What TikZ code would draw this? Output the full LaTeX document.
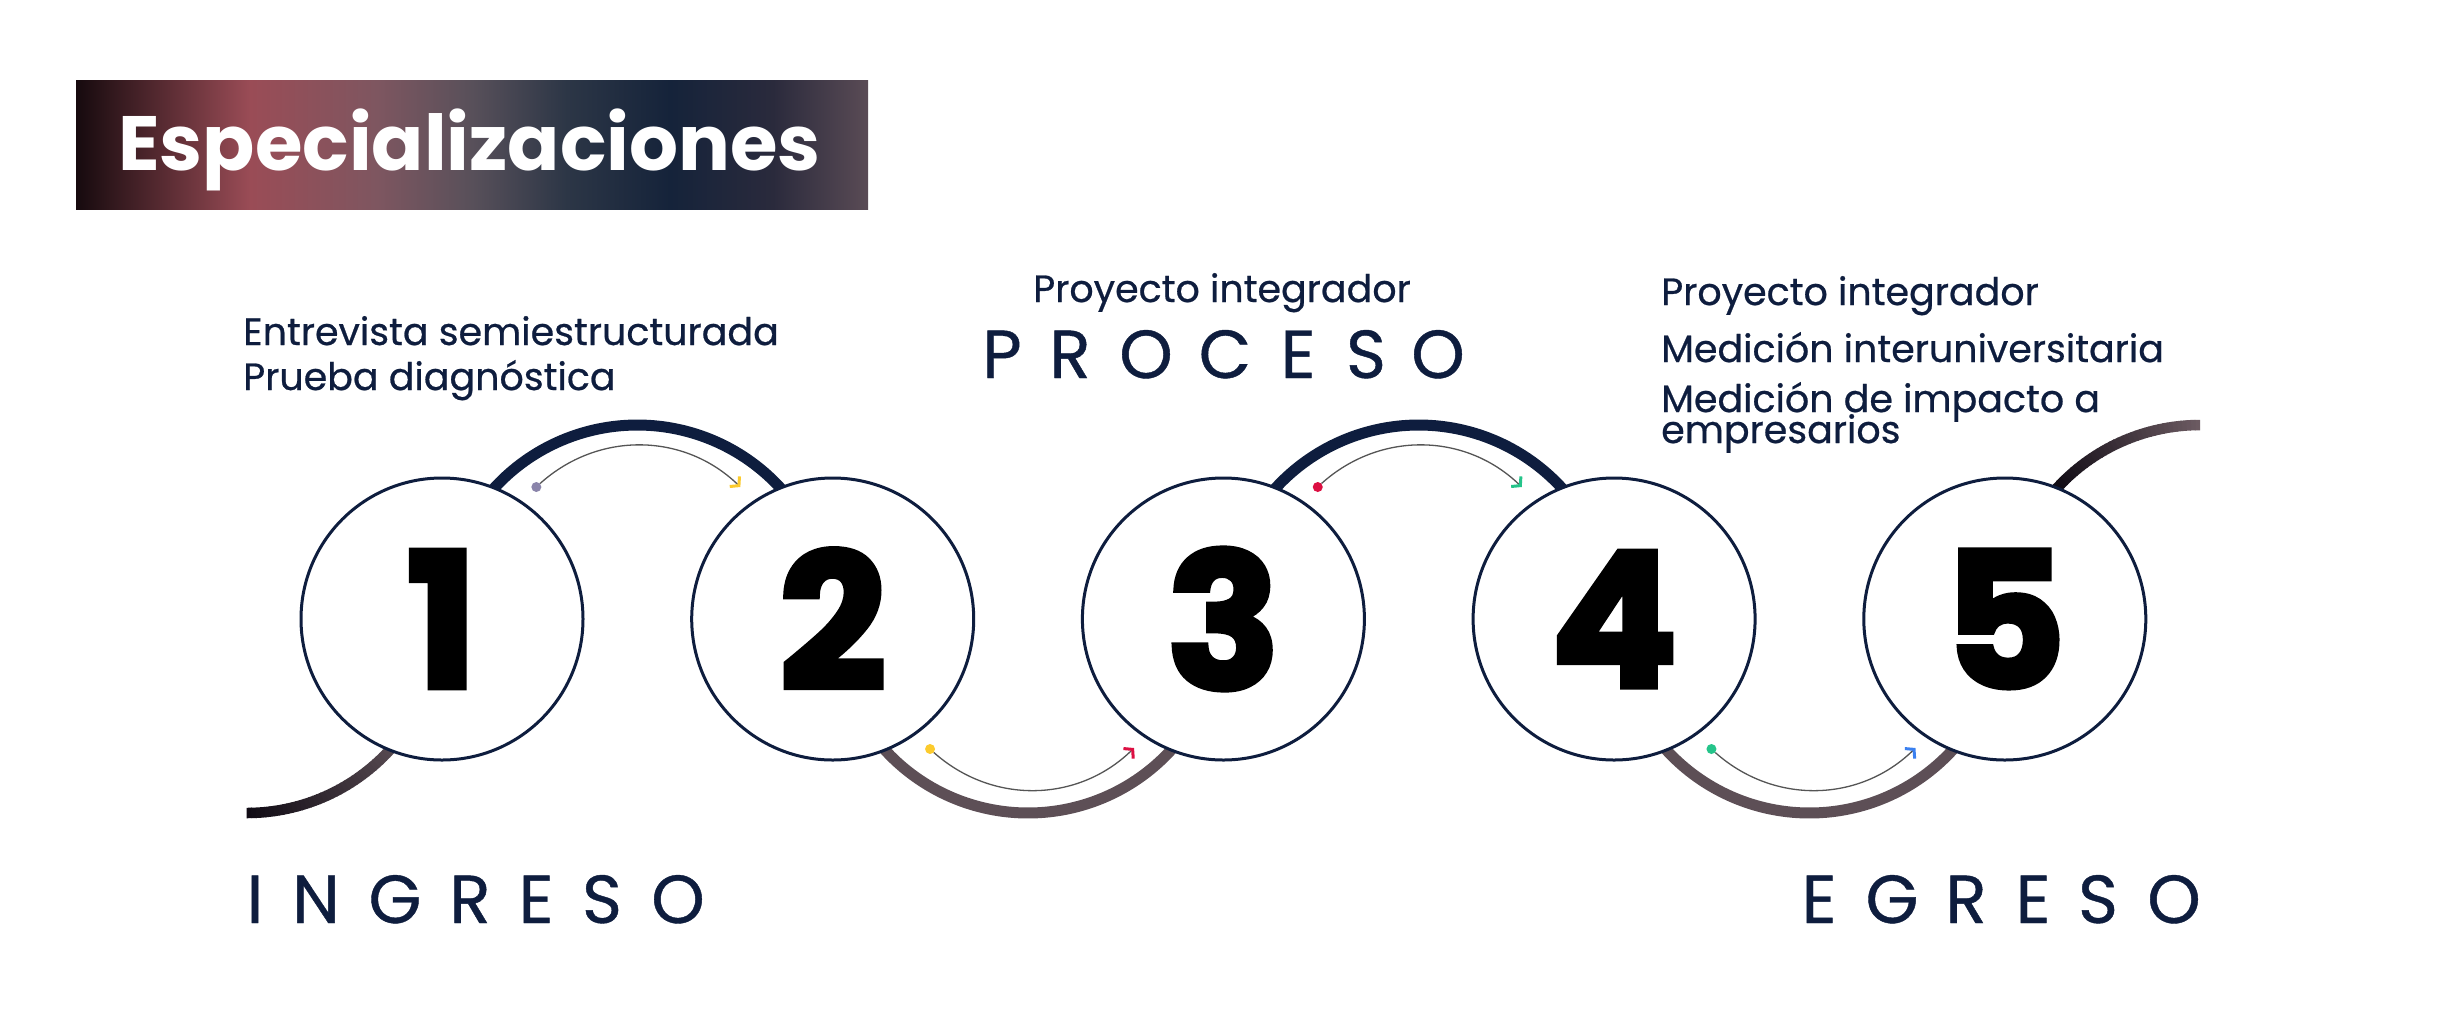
\documentclass[tikz,border=0pt]{standalone}
\usepackage{fontspec}
\setmainfont{Poppins}
\newfontfamily\digfont{Poppins}[FakeBold=3]
\newfontfamily\bodyfont{Poppins}[FakeBold=0.6]
\usetikzlibrary{arrows.meta}
\definecolor{navy}{HTML}{0E1D3E}
\definecolor{brownarc}{HTML}{5D4F56}
\definecolor{endbrown}{HTML}{6B5A61}
\definecolor{darkend}{HTML}{100B14}
\definecolor{dotlav}{HTML}{8A84AA}
\definecolor{cyel}{HTML}{FCCB2D}
\definecolor{cred}{HTML}{DC0F42}
\definecolor{cgreen}{HTML}{25C48A}
\definecolor{cblue}{HTML}{3A80F0}
\definecolor{arrowgray}{HTML}{555555}
\definecolor{t0}{HTML}{160A0E}
\definecolor{t1}{HTML}{9A4C56}
\definecolor{t2}{HTML}{7E5660}
\definecolor{t3}{HTML}{58505A}
\definecolor{t4}{HTML}{2C3646}
\definecolor{t5}{HTML}{15233A}
\definecolor{t6}{HTML}{2A2A3C}
\definecolor{t7}{HTML}{5A4B55}
\pgfdeclarehorizontalshading{titleshade}{100bp}{color(0bp)=(t0); color(25bp)=(t0); color(36bp)=(t1); color(44bp)=(t2); color(50bp)=(t3); color(56bp)=(t4); color(62.5bp)=(t5); color(69bp)=(t6); color(75bp)=(t7); color(100bp)=(t7)}
\tikzset{
  stepcircle/.style={circle, draw=navy, line width=3, fill=white, minimum size=282, inner sep=0, font=\digfont\bfseries\fontsize{188}{188}\selectfont, text=black},
  bodytext/.style={anchor=base west, inner sep=0, text=navy, font=\bodyfont\fontsize{38}{38}\selectfont},
  bigletter/.style={anchor=base, inner sep=0, text=navy, font=\bodyfont\fontsize{68}{68}\selectfont},
  toparc/.style={navy, line width=11},
  botarc/.style={brownarc, line width=11},
  dotnode/.style={circle, fill=#1, minimum size=10, inner sep=0},
  thinarrow/.style={arrowgray, line width=1.3, -{Straight Barb[length=6, width=14, line width=3, color=#1]}}
}
\begin{document}
\begin{tikzpicture}[x=1pt, y=-1pt]
\useasboundingbox (0,0) rectangle (2446,1021);
\fill[white] (0,0) rectangle (2446,1021);
% title
\shade[shading=titleshade] (76,80) rectangle (868,209);
\node[anchor=base west, inner sep=0, text=white, font=\bfseries\fontsize{77}{77}\selectfont] (title) at (118,170) {Especializaciones};
% thick arcs
\draw[toparc] plot[domain=215:325, samples=80] ({637.35+194*cos(\x)},{619+194*sin(\x)});
\draw[toparc] plot[domain=215:325, samples=80] ({1418.75+194*cos(\x)},{619+194*sin(\x)});
\draw[botarc] plot[domain=35:145, samples=80] ({1028.05+194*cos(\x)},{619+194*sin(\x)});
\draw[botarc] plot[domain=35:145, samples=80] ({1809.45+194*cos(\x)},{619+194*sin(\x)});
% gradient end arcs
\foreach \k in {0,...,39}{
  \pgfmathsetmacro\aA{90-\k*1.35}
  \pgfmathsetmacro\aB{\aA-1.6}
  \pgfmathsetmacro\pc{min(100,\k*2.6)}
  \draw[line width=10.5, color=brownarc!\pc!darkend] plot[domain=\aA:\aB, samples=4] ({246.65+194*cos(\x)},{619+194*sin(\x)});
}
\foreach \k in {0,...,39}{
  \pgfmathsetmacro\aA{270-\k*1.35}
  \pgfmathsetmacro\aB{\aA-1.6}
  \pgfmathsetmacro\pc{max(0,100-\k*2.9)}
  \draw[line width=10.5, color=endbrown!\pc!darkend] plot[domain=\aA:\aB, samples=4] ({2200.15+194*cos(\x)},{619+194*sin(\x)});
}
% circles
\node[stepcircle] (c1) at (442,619) {1};
\node[stepcircle] (c2) at (832.7,619) {2};
\node[stepcircle] (c3) at (1223.4,619) {3};
\node[stepcircle] (c4) at (1614.1,619) {4};
\node[stepcircle] (c5) at (2004.8,619) {5};
% thin arrows
\node[dotnode=dotlav] (d12) at (536.35,487) {};
\coordinate (e12) at (740.35,487);
\draw[thinarrow=cyel] (d12) to[bend left=43] (e12);
\node[dotnode=cyel] (d23) at (930.05,749) {};
\coordinate (e23) at (1134.05,748);
\draw[thinarrow=cred] (d23) to[bend right=43] (e23);
\node[dotnode=cred] (d34) at (1317.75,487) {};
\coordinate (e34) at (1521.75,487);
\draw[thinarrow=cgreen] (d34) to[bend left=43] (e34);
\node[dotnode=cgreen] (d45) at (1711.45,749) {};
\coordinate (e45) at (1915.45,748);
\draw[thinarrow=cblue] (d45) to[bend right=43] (e45);
% texts
\node[bodytext] (t1a) at (243,345) {Entrevista semiestructurada};
\node[bodytext] (t1b) at (243,390) {Prueba diagnóstica};
\node[bodytext] (t3a) at (1033,302) {Proyecto integrador};
\node[bodytext] (t5a) at (1661,305) {Proyecto integrador};
\node[bodytext] (t5b) at (1661,362) {Medición interuniversitaria};
\node[bodytext] (t5c) at (1661,412) {Medición de impacto a};
\node[bodytext] (t5d) at (1661,443) {empresarios};
% spaced words
\foreach \l/\x [count=\n] in {P/1002,R/1070,O/1146,C/1225,E/1298,S/1366,O/1438}
  \node[bigletter] (proc\n) at (\x,378) {\l};
\foreach \l/\x [count=\n] in {I/255,N/316,G/395,R/470,E/536,S/602,O/678}
  \node[bigletter] (ingr\n) at (\x,923) {\l};
\foreach \l/\x [count=\n] in {E/1819,G/1892,R/1966,E/2033,S/2098,O/2174}
  \node[bigletter] (egr\n) at (\x,923) {\l};
\end{tikzpicture}
\end{document}
